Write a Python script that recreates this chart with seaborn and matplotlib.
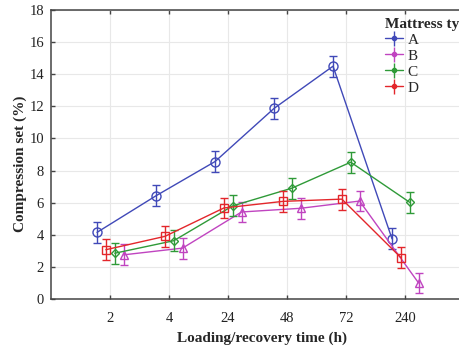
import numpy as np
import pandas as pd
import matplotlib
matplotlib.use("Agg")
import matplotlib.pyplot as plt
import seaborn as sns

categories = ["2", "4", "24", "48", "72", "240"]
types = ["A", "B", "C", "D"]
vals_A = [4.15, 6.43, 8.56, 11.87, 14.5, 3.75]
vals_B = [2.75, 3.17, 5.42, 5.65, 6.1, 1.0]
vals_C = [2.85, 3.63, 5.8, 6.9, 8.52, 6.02]
vals_D = [3.07, 3.9, 5.67, 6.08, 6.22, 2.58]
err_A = [0.65, 0.65, 0.65, 0.65, 0.65, 0.65]
err_B = [0.65, 0.65, 0.65, 0.65, 0.65, 0.65]
err_C = [0.65, 0.65, 0.65, 0.65, 0.65, 0.65]
err_D = [0.65, 0.65, 0.65, 0.65, 0.65, 0.65]

values = {"A": vals_A, "B": vals_B, "C": vals_C, "D": vals_D}
errors = {"A": err_A, "B": err_B, "C": err_C, "D": err_D}
colors = {"A": "#4049b8", "B": "#c044c0", "C": "#2f9a38", "D": "#e3262b"}
markers = {"A": "o", "B": "^", "C": "D", "D": "s"}
msizes = {"A": 6.5, "B": 6, "C": 4, "D": 6}
offsets = {"A": -0.22, "D": -0.07, "C": 0.08, "B": 0.23}

sns.set_style("whitegrid")
plt.rcParams["font.family"] = ["Liberation Serif", "DejaVu Serif"]

rows = []
for t in types:
    for i, c in enumerate(categories):
        rows.append({"type": t, "cat": c, "pos": i + 1 + offsets[t],
                     "val": values[t][i], "err": errors[t][i]})
df = pd.DataFrame(rows)

fig = plt.figure(figsize=(4.6, 3.48), dpi=100)
ax = fig.add_axes([51/460, 49/348, 413/460, 289/348])

handles = []
for t in ["A", "B", "C", "D"]:
    sub = df[df["type"] == t]
    sns.lineplot(data=sub, x="pos", y="val", ax=ax, color=colors[t], lw=1.0,
                 marker=markers[t], markersize=msizes[t], markerfacecolor="none",
                 markeredgecolor=colors[t], markeredgewidth=1.0, legend=False,
                 sort=False, estimator=None)
    ax.errorbar(sub["pos"], sub["val"], yerr=sub["err"], fmt="none",
                ecolor=colors[t], elinewidth=1.0, capsize=3, capthick=1.0)
    h = ax.errorbar([], [], yerr=[], color=colors[t], marker="o", markersize=3,
                    lw=1.0, capsize=6, label=t)
    handles.append(h)

ax.set_xlim(0, 7)
ax.set_ylim(0, 18)
ax.set_xticks(range(1, 7))
ax.set_xticklabels(categories)
ax.set_yticks(range(0, 19, 2))
ax.grid(True, color="#e8e8e8", lw=0.8)
for s in ["left", "bottom", "top", "right"]:
    ax.spines[s].set_color("#444444")
    ax.spines[s].set_linewidth(1.1)
ax.tick_params(axis="both", direction="in", length=3, width=1.0, labelsize=10.5,
               color="#444444", labelcolor="#222222", top=True, left=True, bottom=True)
ax.tick_params(axis="x", pad=9)
ax.tick_params(axis="y", pad=5)
ax.set_xlabel("Loading/recovery time (h)", fontsize=11, fontweight="bold", labelpad=5)
ax.set_ylabel("Compression set (%)", fontsize=11, fontweight="bold", labelpad=2)
ax.xaxis.label.set_x(0.51)
ax.yaxis.label.set_y(0.469)

leg = ax.legend(handles=handles, labels=types, title="Mattress type",
                loc="upper left", bbox_to_anchor=(323/413, 1.01), frameon=False,
                fontsize=11, title_fontproperties={"weight": "bold", "size": 11},
                handlelength=1.2, handletextpad=0.3, labelspacing=0.15,
                borderpad=0.2, alignment="left")

fig.savefig("out.png", dpi=100)
